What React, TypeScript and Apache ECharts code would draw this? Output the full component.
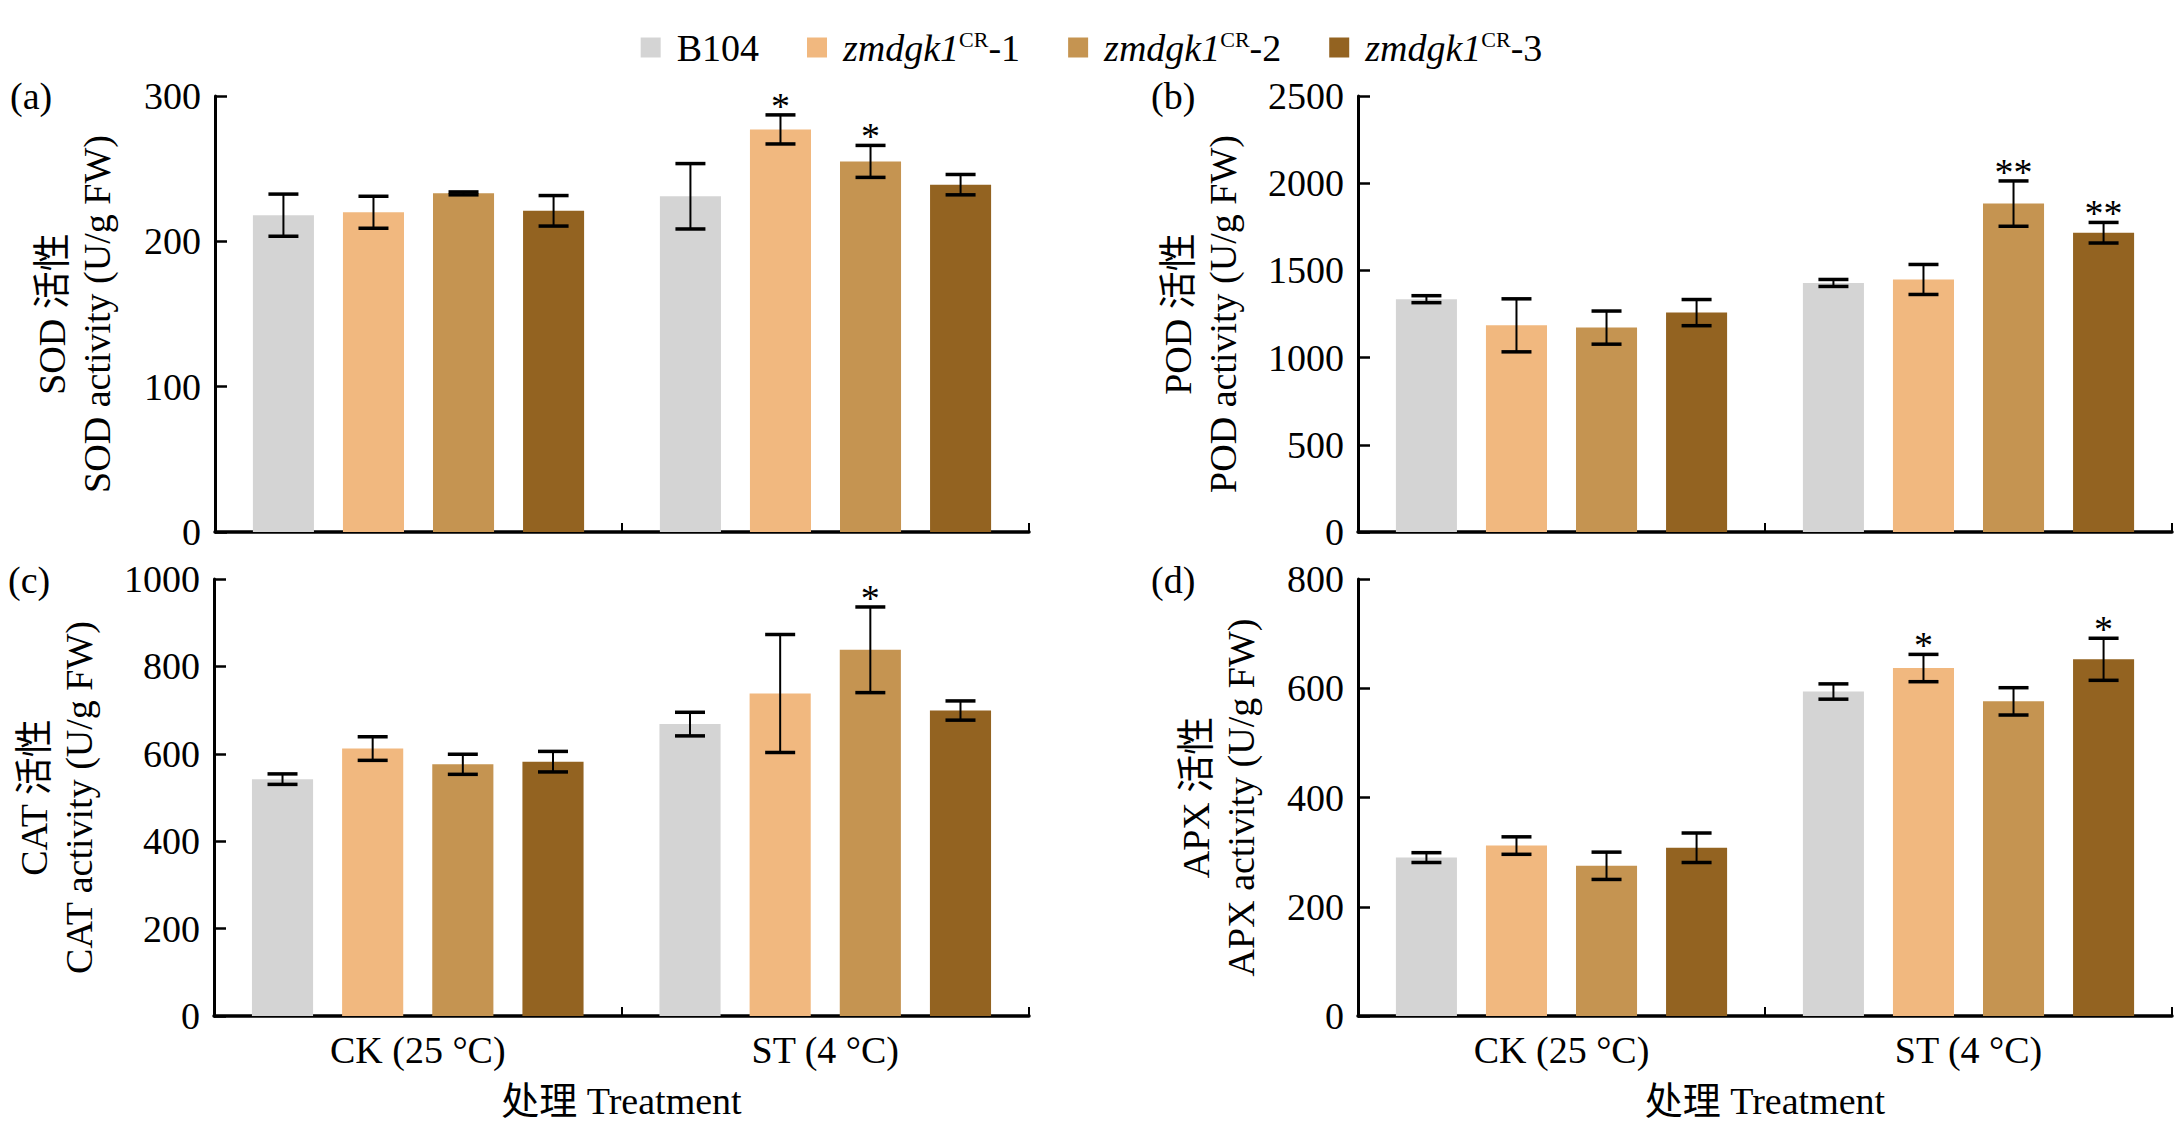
import React, { useEffect, useRef } from "react";
import * as echarts from "echarts";

const FONT = "'Liberation Serif', 'Times New Roman', 'Noto Sans CJK SC', serif";

// categories and genotypes
const treatments = ["CK (25 °C)", "ST (4 °C)"];
const genotypes = ["B104", "zmdgk1CR-1", "zmdgk1CR-2", "zmdgk1CR-3"];
const genotypeColors = ["#D4D4D4", "#F1B87F", "#C59451", "#936321"];

// (a) SOD  — per genotype: [CK, ST]
const sodMeans = [[218, 231], [220, 277], [233, 255], [221, 239]];
const sodErrors = [[14.5, 22.5], [11, 10], [1, 11], [10.5, 7]];
const sodSig = [["", ""], ["", "*"], ["", "*"], ["", ""]];
const sodTicks = { max: 300, interval: 100 };

// (b) POD
const podMeans = [[1335, 1428], [1185, 1448], [1172, 1883], [1258, 1716]];
const podErrors = [[20, 20], [152, 86], [95, 130], [75, 59]];
const podSig = [["", ""], ["", ""], ["", "**"], ["", "**"]];
const podTicks = { max: 2500, interval: 500 };

// (c) CAT
const catMeans = [[542, 668], [612, 738], [576, 838], [582, 699]];
const catErrors = [[12, 27], [27, 135], [23, 98], [23.5, 22]];
const catSig = [["", ""], ["", ""], ["", "*"], ["", ""]];
const catTicks = { max: 1000, interval: 200 };

// (d) APX
const apxMeans = [[290, 594], [312, 637], [275, 576], [308, 653]];
const apxErrors = [[9, 14], [16, 25], [25, 25], [27, 38.5]];
const apxSig = [["", ""], ["", "*"], ["", ""], ["", "*"]];
const apxTicks = { max: 800, interval: 200 };

const panelLetters = ["(a)", "(b)", "(c)", "(d)"];
const yNames = [
  "SOD 活性\nSOD activity (U/g FW)",
  "POD 活性\nPOD activity (U/g FW)",
  "CAT 活性\nCAT activity (U/g FW)",
  "APX 活性\nAPX activity (U/g FW)",
];
const xName = "处理 Treatment";

const BAR_FRAC = 0.15;
const BAR_GAP = 0.475;

export default function App() {
  const ref = useRef<HTMLDivElement>(null);

  useEffect(() => {
    if (!ref.current) return;
    const chart = echarts.init(ref.current, undefined, { renderer: "svg" });

    const panels = [
      { means: sodMeans, errs: sodErrors, sig: sodSig, ticks: sodTicks, nameGap: 96 },
      { means: podMeans, errs: podErrors, sig: podSig, ticks: podTicks, nameGap: 113 },
      { means: catMeans, errs: catErrors, sig: catSig, ticks: catTicks, nameGap: 113 },
      { means: apxMeans, errs: apxErrors, sig: apxSig, ticks: apxTicks, nameGap: 95 },
    ];

    const grids = [
      { left: 215, top: 96, width: 814, height: 436 },
      { left: 1358, top: 96, width: 814, height: 436 },
      { left: 214, top: 579, width: 815, height: 437 },
      { left: 1358, top: 579, width: 814, height: 437 },
    ];

    const xAxes = panels.map((p, i) => ({
      type: "category",
      gridIndex: i,
      data: treatments,
      boundaryGap: true,
      axisLine: { lineStyle: { color: "#000", width: 3.5 } },
      axisTick: { show: true, inside: true, length: 9, lineStyle: { color: "#000", width: 2 } },
      axisLabel: {
        show: i >= 2,
        fontFamily: FONT,
        fontSize: 38,
        lineHeight: 45,
        color: "#000",
        margin: 11,
      },
      name: i >= 2 ? xName : "",
      nameLocation: "middle",
      nameGap: 62,
      nameTextStyle: { fontFamily: FONT, fontSize: 38, lineHeight: 45, color: "#000" },
    }));

    const yAxes = panels.map((p, i) => ({
      type: "value",
      gridIndex: i,
      min: 0,
      max: p.ticks.max,
      interval: p.ticks.interval,
      splitLine: { show: false },
      axisLine: { show: true, lineStyle: { color: "#000", width: 3 } },
      axisTick: { show: true, inside: true, length: 12, lineStyle: { color: "#000", width: 2.5 } },
      axisLabel: {
        fontFamily: FONT,
        fontSize: 38,
        color: "#000",
        margin: 14,
        formatter: (v: number) => String(v),
      },
      name: yNames[i],
      nameLocation: "middle",
      nameGap: p.nameGap,
      nameTextStyle: { fontFamily: FONT, fontSize: 38, lineHeight: 45, color: "#000", align: "center" },
    }));

    const series: any[] = [];
    panels.forEach((p, pi) => {
      genotypes.forEach((g, gi) => {
        series.push({
          type: "bar",
          name: g,
          xAxisIndex: pi,
          yAxisIndex: pi,
          barWidth: `${BAR_FRAC * 100}%`,
          barGap: `${BAR_GAP * 100}%`,
          itemStyle: { color: genotypeColors[gi] },
          data: p.means[gi],
        });
      });
      genotypes.forEach((g, gi) => {
        const sigs = p.sig[gi];
        series.push({
          type: "custom",
          name: `err-${pi}-${gi}`,
          xAxisIndex: pi,
          yAxisIndex: pi,
          z: 5,
          encode: { x: 0, y: 1 },
          data: p.means[gi].map((v, k) => [k, v, p.errs[gi][k]]),
          renderItem: (params: any, api: any) => {
            const k = api.value(0);
            const v = api.value(1);
            const e = api.value(2);
            const band = api.size([1, 0])[0];
            const bw = band * BAR_FRAC;
            const step = bw * (1 + BAR_GAP);
            const c = api.coord([k, v]);
            const x = c[0] + (gi - 1.5) * step;
            const yTop = api.coord([k, v + e])[1];
            const yBot = api.coord([k, v - e])[1];
            const half = 15;
            const children: any[] = [
              { type: "line", shape: { x1: x, y1: yTop, x2: x, y2: yBot }, style: { stroke: "#000", lineWidth: 2 } },
              { type: "line", shape: { x1: x - half, y1: yTop, x2: x + half, y2: yTop }, style: { stroke: "#000", lineWidth: 3.5 } },
              { type: "line", shape: { x1: x - half, y1: yBot, x2: x + half, y2: yBot }, style: { stroke: "#000", lineWidth: 3.5 } },
            ];
            const s = sigs[params.dataIndex];
            if (s) {
              children.push({
                type: "text",
                style: {
                  text: s,
                  x,
                  y: yTop - 9,
                  align: "center",
                  verticalAlign: "middle",
                  fontFamily: FONT,
                  fontSize: 38,
                  fill: "#000",
                },
              });
            }
            return { type: "group", children };
          },
        });
      });
    });

    const letterPos = [
      [10, 96],
      [1151, 96],
      [8, 580],
      [1151, 580],
    ];

    const option: any = {
      animation: false,
      backgroundColor: "#fff",
      textStyle: { fontFamily: FONT },
      legend: {
        data: genotypes,
        top: 20,
        left: "center",
        icon: "rect",
        itemWidth: 20,
        itemHeight: 20,
        itemGap: 48,
        selectedMode: false,
        formatter: (name: string) => {
          if (name === "B104") return "{g|}{n|B104}";
          return `{g|}{i|zmdgk1}{s|CR}{n|-${name.slice(-1)}}`;
        },
        textStyle: {
          fontFamily: FONT,
          fontSize: 38,
          color: "#000",
          rich: {
            g: { width: 11 },
            n: { fontFamily: FONT, fontSize: 38, lineHeight: 45, color: "#000" },
            i: { fontFamily: FONT, fontSize: 38, lineHeight: 45, fontStyle: "italic", color: "#000" },
            s: { fontFamily: FONT, fontSize: 22, lineHeight: 45, color: "#000", verticalAlign: "top", padding: [3, 0, 0, 0] },
          },
        },
      },
      grid: grids,
      xAxis: xAxes,
      yAxis: yAxes,
      series,
      graphic: panelLetters.map((t, i) => ({
        type: "text",
        x: letterPos[i][0],
        y: letterPos[i][1],
        style: {
          text: t,
          align: "left",
          verticalAlign: "middle",
          fontFamily: FONT,
          fontSize: 38,
          fill: "#000",
        },
      })),
    };

    chart.setOption(option);
    return () => chart.dispose();
  }, []);

  return (
    <div
      ref={ref}
      style={{ position: "absolute", left: 0, top: 0, width: 2183, height: 1135, background: "#fff" }}
    />
  );
}
